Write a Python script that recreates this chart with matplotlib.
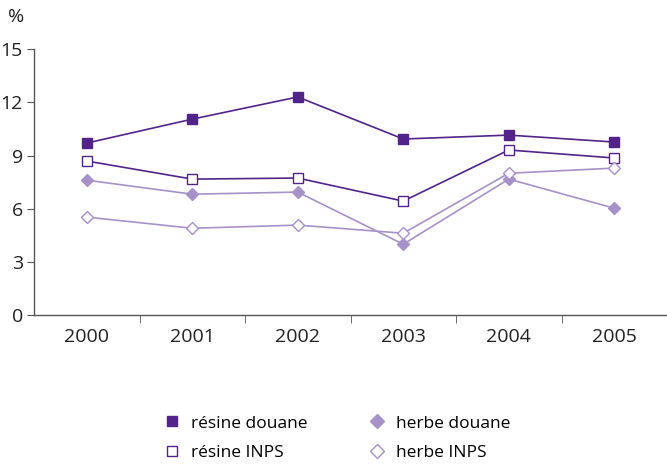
import matplotlib
matplotlib.use("Agg")
import matplotlib.pyplot as plt
from matplotlib.lines import Line2D

plt.rcParams["font.family"] = ["Open Sans", "DejaVu Sans"]

years = ["2000", "2001", "2002", "2003", "2004", "2005"]
resine_douane = [9.70, 11.05, 12.30, 9.93, 10.15, 9.76]
resine_inps = [8.69, 7.67, 7.73, 6.43, 9.31, 8.86]
herbe_douane = [7.61, 6.82, 6.94, 4.00, 7.67, 6.03]
herbe_inps = [5.53, 4.90, 5.08, 4.62, 8.00, 8.29]

dark = "#52248a"
light = "#a691c9"

fig = plt.figure(figsize=(6.67, 4.67), dpi=100)
ax = fig.add_axes([0.051, 0.325, 0.949, 0.57])

x = range(len(years))
ax.plot(x, resine_douane, color=dark, lw=1.2, marker="s", ms=7, mfc=dark, mec=dark)
ax.plot(x, resine_inps, color=dark, lw=1.2, marker="s", ms=7, mfc="white", mec=dark)
ax.plot(x, herbe_douane, color=light, lw=1.2, marker="D", ms=6, mfc=light, mec=light)
ax.plot(x, herbe_inps, color=light, lw=1.2, marker="D", ms=6, mfc="white", mec=light)

ax.set_xlim(-0.5, 5.5)
ax.set_ylim(0, 15)
ax.set_yticks([0, 3, 6, 9, 12, 15])
ax.set_xticks(list(x))
ax.set_xticklabels(years)
ax.set_xticks([i + 0.5 for i in range(5)], minor=True)
ax.tick_params(axis="x", which="major", length=0, pad=9, labelsize=14, colors="#222222")
ax.tick_params(axis="x", which="minor", length=6, color="#555555")
ax.tick_params(axis="y", length=5, color="#555555", labelsize=14, labelcolor="#222222", pad=3)
for s in ["top", "right"]:
    ax.spines[s].set_visible(False)
for s in ["left", "bottom"]:
    ax.spines[s].set_color("#555555")
    ax.spines[s].set_linewidth(1.0)

fig.text(0.012, 0.963, "%", fontsize=14, color="#222222", va="center")

handles = [
    Line2D([], [], ls="none", marker="s", ms=7, mfc=dark, mec=dark),
    Line2D([], [], ls="none", marker="s", ms=7, mfc="white", mec=dark),
    Line2D([], [], ls="none", marker="D", ms=7.5, mfc=light, mec=light),
    Line2D([], [], ls="none", marker="D", ms=7.5, mfc="white", mec=light),
]
labels = ["résine douane", "résine INPS", "herbe douane", "herbe INPS"]
fig.legend(handles, labels, ncol=2, loc="center", bbox_to_anchor=(0.505, 0.062),
           frameon=False, fontsize=12.5, handletextpad=0.6, columnspacing=3.5,
           labelspacing=0.75, handlelength=1.0)

fig.savefig("out.png", dpi=100)
